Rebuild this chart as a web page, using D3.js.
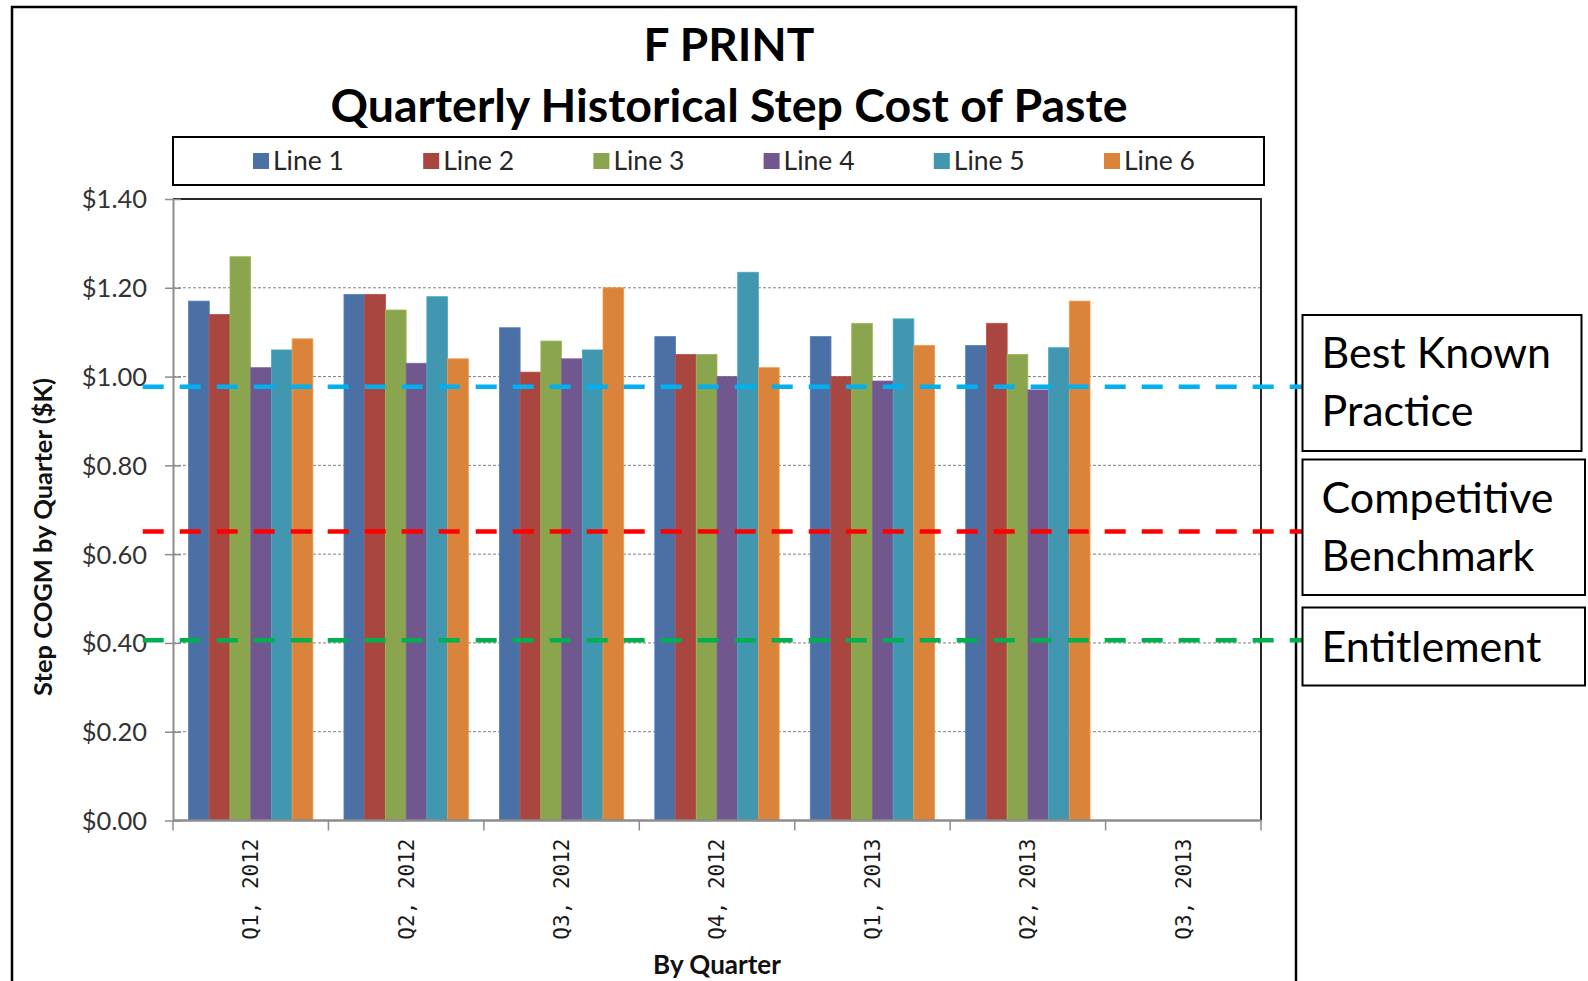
<!DOCTYPE html>
<html>
<head>
<meta charset="utf-8">
<script src="https://cdn.jsdelivr.net/npm/d3@7"></script>
<style>
  html, body { margin: 0; padding: 0; background: #fff; }
  svg { display: block; }
</style>
</head>
<body>
<svg id="chart" width="1588" height="981"></svg>
<script>
// Quarterly step cost of paste, one series per production line
const quarters = ["Q1, 2012", "Q2, 2012", "Q3, 2012", "Q4, 2012", "Q1, 2013", "Q2, 2013", "Q3, 2013"];
const seriesNames = ["Line 1", "Line 2", "Line 3", "Line 4", "Line 5", "Line 6"];
const line1 = [1.17, 1.185, 1.11, 1.09, 1.09, 1.07, null];
const line2 = [1.14, 1.185, 1.01, 1.05, 1.00, 1.12, null];
const line3 = [1.27, 1.15, 1.08, 1.05, 1.12, 1.05, null];
const line4 = [1.02, 1.03, 1.04, 1.00, 0.99, 0.97, null];
const line5 = [1.06, 1.18, 1.06, 1.235, 1.13, 1.065, null];
const line6 = [1.085, 1.04, 1.20, 1.02, 1.07, 1.17, null];
const seriesColors = ["#4A70A6", "#A8463F", "#8AA54E", "#70578E", "#4197AF", "#DA843B"];
const yTicks = [0, 0.2, 0.4, 0.6, 0.8, 1.0, 1.2, 1.4];

// Reference levels drawn across the chart
const benchmarkNames = ["Best Known Practice", "Competitive Benchmark", "Entitlement"];
const benchmarkValues = [0.977, 0.651, 0.406];
const benchmarkColors = ["#00B0F0", "#FF0000", "#00B050"];

const seriesValues = [line1, line2, line3, line4, line5, line6];

const svg = d3.select("#chart");
const W = 1588, H = 981;

const plot = { left: 173, right: 1261, top: 199, bottom: 820.5 };

const x0 = d3.scaleBand().domain(quarters).range([plot.left, plot.right]).padding(0);
const x1 = d3.scaleBand().domain(seriesNames).range([0, x0.bandwidth()])
  .paddingInner(0).paddingOuter(0.75);
const y = d3.scaleLinear().domain([0, 1.4]).range([plot.bottom, plot.top]);

const sans = "Lato, 'Open Sans', sans-serif";
const mono = "'DejaVu Sans Mono', monospace";

// Outer chart frame (cropped at the bottom)
svg.append("rect")
  .attr("x", 12).attr("y", 7)
  .attr("width", 1284).attr("height", H + 20)
  .attr("fill", "#fff").attr("stroke", "#000").attr("stroke-width", 2.5);

// Title
const title = svg.append("g").attr("font-family", sans).attr("font-weight", "bold")
  .attr("fill", "#000").attr("text-anchor", "middle");
title.append("text").attr("x", 729).attr("y", 61).attr("font-size", 46).text("F PRINT");
title.append("text").attr("x", 729).attr("y", 122).attr("font-size", 46.5)
  .text("Quarterly Historical Step Cost of Paste");

// Legend
const legend = svg.append("g");
legend.append("rect")
  .attr("x", 173).attr("y", 137).attr("width", 1091).attr("height", 48)
  .attr("fill", "#fff").attr("stroke", "#000").attr("stroke-width", 2);
const legendX = d3.scalePoint().domain(seriesNames).range([253, 1104]);
const li = legend.selectAll("g.item").data(seriesNames).join("g")
  .attr("class", "item")
  .attr("transform", d => `translate(${legendX(d)},0)`);
li.append("rect").attr("x", 0).attr("y", 153).attr("width", 16).attr("height", 16)
  .attr("fill", (d, i) => seriesColors[i]);
li.append("text").attr("x", 20).attr("y", 170)
  .attr("font-family", sans).attr("font-size", 26.5).attr("fill", "#262626")
  .text(d => d);

// Horizontal gridlines
svg.append("g").selectAll("line")
  .data(yTicks.filter(v => v > 0 && v < 1.4)).join("line")
  .attr("x1", plot.left).attr("x2", plot.right)
  .attr("y1", d => y(d)).attr("y2", d => y(d))
  .attr("stroke", "#7f7f7f").attr("stroke-width", 1).attr("stroke-dasharray", "3,2");

// Plot frame: top and right edges
svg.append("path")
  .attr("d", `M${plot.left},${plot.top}H${plot.right}V${plot.bottom}`)
  .attr("fill", "none").attr("stroke", "#262626").attr("stroke-width", 2);

// Bars
const groups = svg.append("g").selectAll("g")
  .data(quarters).join("g")
  .attr("transform", d => `translate(${x0(d)},0)`);
groups.selectAll("rect")
  .data((q, qi) => seriesNames.map((s, si) => ({ s, si, v: seriesValues[si][qi] }))
    .filter(d => d.v != null))
  .join("rect")
  .attr("x", d => x1(d.s))
  .attr("width", x1.bandwidth())
  .attr("y", d => y(d.v))
  .attr("height", d => y(0) - y(d.v))
  .attr("fill", d => seriesColors[d.si])
  .attr("stroke", d => d3.color(seriesColors[d.si]).brighter(0.35))
  .attr("stroke-width", 0.8);

// Y axis
const yAxis = d3.axisLeft(y).tickValues(yTicks)
  .tickFormat(d => "$" + d3.format(".2f")(d))
  .tickSizeInner(8).tickSizeOuter(0).tickPadding(18);
const ya = svg.append("g").attr("transform", `translate(${plot.left},0)`).call(yAxis);
ya.select(".domain").attr("stroke", "#8c8c8c").attr("stroke-width", 2);
ya.selectAll(".tick line").attr("stroke", "#8c8c8c").attr("stroke-width", 1.5)
  .attr("x1", 8);
ya.selectAll(".tick text").attr("font-family", sans).attr("font-size", 25.5)
  .attr("fill", "#333").attr("dy", "0.35em");

// X axis: ticks between categories
const xa = svg.append("g").attr("transform", `translate(0,${plot.bottom})`);
xa.append("line").attr("x1", plot.left).attr("x2", plot.right)
  .attr("stroke", "#8c8c8c").attr("stroke-width", 2.5);
xa.selectAll("line.tk").data(quarters.concat(["end"])).join("line")
  .attr("class", "tk")
  .attr("x1", (d, i) => i < quarters.length ? x0(d) : plot.right)
  .attr("x2", (d, i) => i < quarters.length ? x0(d) : plot.right)
  .attr("y1", 0).attr("y2", 10)
  .attr("stroke", "#8c8c8c").attr("stroke-width", 1.5);
xa.selectAll("text").data(quarters).join("text")
  .attr("transform", d => `translate(${x0(d) + x0.bandwidth() / 2},18) rotate(-90)`)
  .attr("text-anchor", "end").attr("dy", "0.35em")
  .attr("font-family", mono)
  .attr("font-size", 21).attr("fill", "#1a1a1a")
  .text(d => d);

// Axis titles
svg.append("text")
  .attr("transform", `translate(52,537) rotate(-90)`)
  .attr("text-anchor", "middle")
  .attr("font-family", sans).attr("font-weight", "bold").attr("font-size", 25.5)
  .attr("fill", "#111")
  .text("Step COGM by Quarter ($K)");
svg.append("text")
  .attr("x", (plot.left + plot.right) / 2).attr("y", 974)
  .attr("text-anchor", "middle")
  .attr("font-family", sans).attr("font-weight", "bold").attr("font-size", 26)
  .attr("fill", "#111")
  .text("By Quarter");

// Reference lines
svg.append("g").selectAll("line")
  .data(benchmarkValues).join("line")
  .attr("x1", 142.7).attr("x2", 1302)
  .attr("y1", d => y(d)).attr("y2", d => y(d))
  .attr("stroke", (d, i) => benchmarkColors[i])
  .attr("stroke-width", 4.5)
  .attr("stroke-dasharray", "21,16");

// Reference labels
const boxes = [
  { x: 1302.5, y: 315, w: 279, h: 136, lines: ["Best Known", "Practice"], base: 368 },
  { x: 1302.5, y: 459.5, w: 282.5, h: 135.5, lines: ["Competitive", "Benchmark"], base: 513 },
  { x: 1302.5, y: 607.5, w: 282.5, h: 78, lines: ["Entitlement"], base: 661.5 }
];
const bx = svg.append("g").selectAll("g").data(boxes).join("g");
bx.append("rect")
  .attr("x", d => d.x).attr("y", d => d.y).attr("width", d => d.w).attr("height", d => d.h)
  .attr("fill", "#fff").attr("stroke", "#000").attr("stroke-width", 2);
bx.each(function (d) {
  const t = d3.select(this).append("text")
    .attr("font-family", sans).attr("font-size", 43).attr("fill", "#000");
  d.lines.forEach((ln, k) => {
    t.append("tspan").attr("x", d.x + 19).attr("y", d.base + k * 57.5).text(ln);
  });
});
</script>
</body>
</html>
